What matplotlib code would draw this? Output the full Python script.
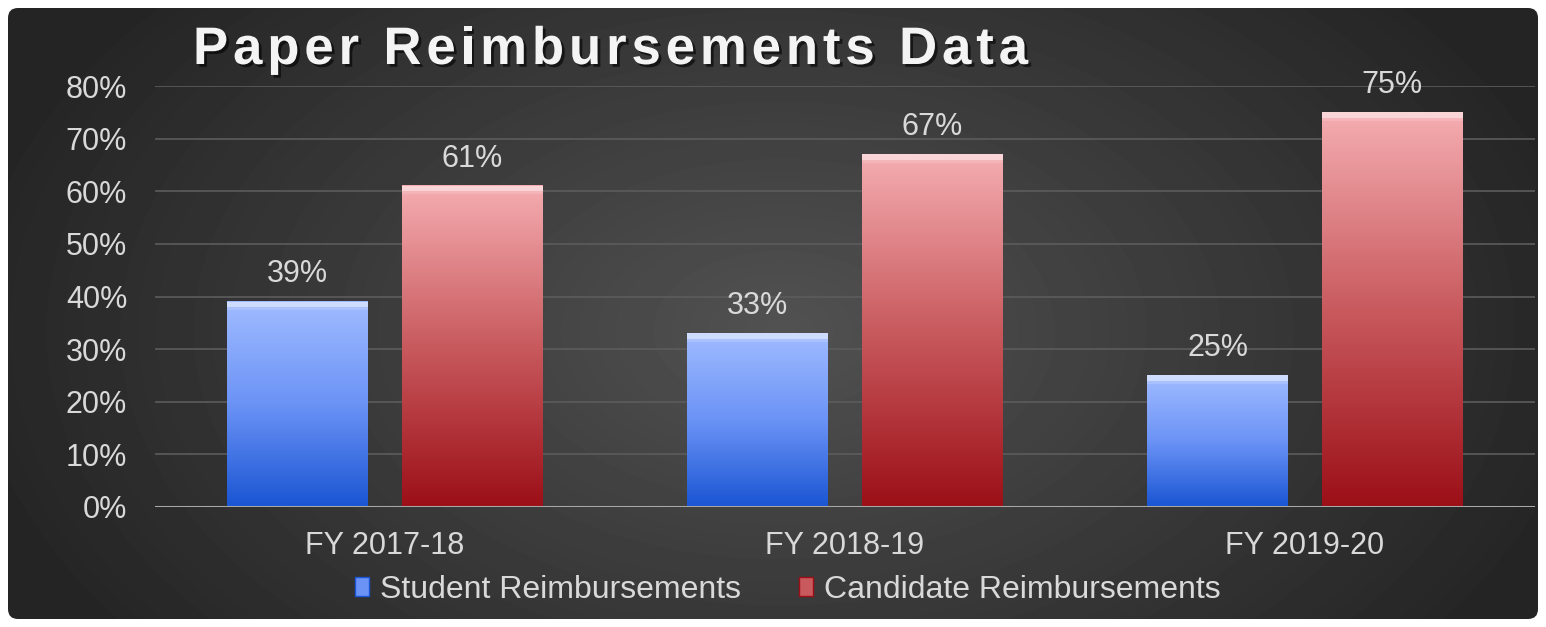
import numpy as np
import matplotlib

matplotlib.use("Agg")
import matplotlib.pyplot as plt
import matplotlib.patheffects as pe
from matplotlib import font_manager, ft2font
from matplotlib.font_manager import FontProperties
from matplotlib.patches import FancyBboxPatch, Patch
from matplotlib.colors import LinearSegmentedColormap

years = ["FY 2017-18", "FY 2018-19", "FY 2019-20"]
student = [39, 33, 25]
candidate = [61, 67, 75]
series_names = ["Student Reimbursements", "Candidate Reimbursements"]
yticks = [0, 10, 20, 30, 40, 50, 60, 70, 80]
title_text = "Paper Reimbursements Data"

BLUE = ("#1a55d3", "#6b93f6", "#a0bbff")
RED = ("#9c0f17", "#c85a5e", "#f5adb1")
TEXT = "#d9d9d9"

plt.rcParams["font.family"] = ["Liberation Sans", "DejaVu Sans"]

W, H = 1546, 627
fig = plt.figure(figsize=(W / 100, H / 100), dpi=100)
fig.patch.set_facecolor("white")

# dark panel with soft radial light
bg = fig.add_axes([0, 0, 1, 1])
bg.set_xlim(0, W)
bg.set_ylim(H, 0)
bg.axis("off")
panel = FancyBboxPatch((8, 8), W - 16, H - 16,
                       boxstyle="round,pad=0,rounding_size=10",
                       facecolor="none", edgecolor="none")
bg.add_patch(panel)
yy, xx = np.mgrid[0:H, 0:W]
r = np.sqrt(((xx - 780) / 800.0) ** 2 + ((yy - 330) / 500.0) ** 2)
shade = np.clip(0.32 - 0.17 * r, 0.145, 0.32)
im = bg.imshow(shade, cmap="gray", vmin=0, vmax=1, extent=(0, W, H, 0),
               interpolation="bilinear", zorder=1)
im.set_clip_path(panel)

# title, drawn letter by letter to get the wide tracking
tsize = 38
tfont = FontProperties(family="Liberation Sans", weight="bold")
ft = ft2font.FT2Font(font_manager.findfont(tfont))
ft.set_size(tsize, 100)
adv = [ft.load_char(ord(c)).linearHoriAdvance / 65536.0 for c in title_text]
x0_t, x1_t = 193.0, 1028.0
extra = ((x1_t - x0_t) - sum(adv)) / (len(title_text) - 1)
cx = x0_t
for c, a in zip(title_text, adv):
    t = fig.text(cx / W, 1 - 64 / H, c, fontproperties=tfont,
                 color="#f4f4f4", ha="left", va="baseline")
    t.set_fontsize(tsize)
    t.set_path_effects([pe.withSimplePatchShadow(offset=(2, -2),
                                                 shadow_rgbFace="black",
                                                 alpha=0.6)])
    cx += a + extra

ax = fig.add_axes([155 / W, 1 - 507 / H, 1380 / W, 421 / H])
ax.set_facecolor("none")

x = np.arange(len(years))
offset, width = 0.19, 0.305


def grad_bars(xs, vals, colors):
    cmap = LinearSegmentedColormap.from_list("g", list(colors))
    grad = np.linspace(0, 1, 256).reshape(-1, 1)
    for xc, v in zip(xs, vals):
        x0, x1 = xc - width / 2, xc + width / 2
        ax.imshow(grad, cmap=cmap, origin="lower", aspect="auto",
                  extent=(x0, x1, 0, v), zorder=3, interpolation="bilinear")
        # bevel highlight along the top edge
        ax.fill_between([x0, x1], v - 1.0, v, color="white", alpha=0.5,
                        lw=0, zorder=4)
        ax.fill_between([x0, x1], v - 1.6, v - 1.0, color="white", alpha=0.15,
                        lw=0, zorder=4)
        ax.annotate(f"{v}%", (xc, v), xytext=(0, 14),
                    textcoords="offset points", ha="center", va="baseline",
                    fontsize=22, color=TEXT)


grad_bars(x - offset, student, BLUE)
grad_bars(x + offset, candidate, RED)
ax.set_xlim(-0.5, 2.5)
ax.set_ylim(0, 80)

ax.set_yticks(yticks)
ax.set_yticklabels([f"{t}%" for t in yticks])
ax.set_xticks(x)
ax.set_xticklabels(years)
ax.tick_params(axis="both", length=0, labelsize=22, labelcolor=TEXT)
ax.tick_params(axis="y", pad=20)
ax.tick_params(axis="x", pad=17)
ax.grid(axis="y", color="#5c5c5c", lw=1.2, zorder=0)
for s in ax.spines.values():
    s.set_visible(False)
ax.axhline(0, color="#a8a8a8", lw=2.2, zorder=5)

handles = [Patch(facecolor=BLUE[1], edgecolor=BLUE[0]),
           Patch(facecolor=RED[1], edgecolor=RED[0])]
fig.legend(handles, series_names, loc="center", ncol=2,
           bbox_to_anchor=(788 / W, 1 - 590 / H), frameon=False,
           fontsize=23, labelcolor=TEXT, handlelength=0.45, handleheight=0.55,
           handletextpad=0.35, columnspacing=1.8)

fig.savefig("out.png", dpi=100, facecolor=fig.get_facecolor())
